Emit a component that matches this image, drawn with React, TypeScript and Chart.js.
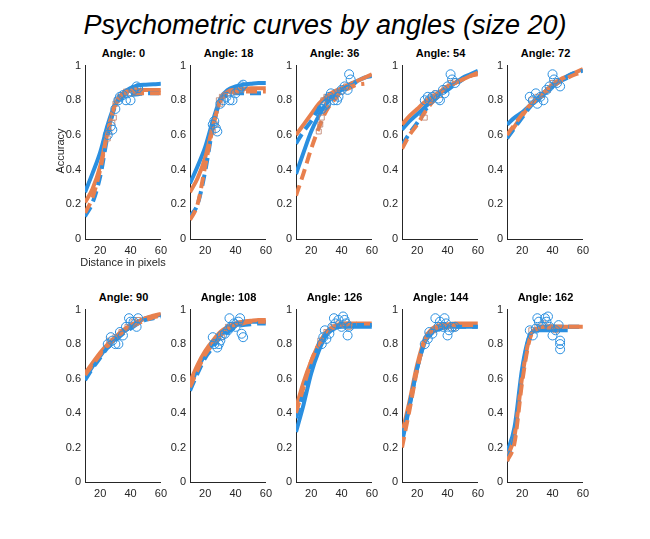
import React, { useEffect, useRef } from "react";
import { Chart, registerables } from "chart.js";

Chart.register(...registerables);

const ANGLES = [0, 18, 36, 54, 72, 90, 108, 126, 144, 162];
const DISTANCES = [10, 15, 20, 25, 30, 35, 40, 45, 50, 55, 60];
const X_TICKS = [20, 40, 60];

// fitted curves, one row per angle, values at DISTANCES (null = curve ends)
const BLUE_SOLID = [
  [0.27, 0.38, 0.5, 0.66, 0.78, 0.84, 0.87, 0.885, 0.89, 0.893, 0.895],
  [0.32, 0.42, 0.53, 0.68, 0.81, 0.86, 0.88, 0.89, 0.895, 0.9, 0.9],
  [0.375, 0.5, 0.62, 0.71, 0.78, 0.83, 0.86, 0.89, 0.91, 0.93, 0.94],
  [0.63, 0.68, 0.72, 0.76, 0.8, 0.84, 0.87, 0.9, 0.93, 0.95, 0.97],
  [0.66, 0.7, 0.73, 0.77, 0.8, 0.84, 0.88, 0.91, 0.93, null, null],
  [0.6, 0.67, 0.73, 0.79, 0.83, 0.87, 0.9, 0.93, 0.95, 0.96, 0.97],
  [0.55, 0.66, 0.74, 0.8, 0.85, 0.88, 0.91, 0.92, 0.93, 0.93, 0.93],
  [0.29, 0.45, 0.63, 0.76, 0.85, 0.89, 0.9, 0.9, 0.9, 0.9, 0.9],
  [0.23, 0.44, 0.66, 0.81, 0.87, 0.89, 0.9, 0.9, 0.9, 0.9, 0.9],
  [0.17, 0.32, 0.66, 0.85, 0.88, 0.88, 0.88, 0.88, 0.88, null, null],
];
const BLUE_DASHED = [
  [0.13, 0.21, 0.36, 0.6, 0.77, 0.82, 0.83, 0.835, 0.84, 0.84, 0.84],
  [0.13, 0.2, 0.39, 0.64, 0.8, 0.83, 0.84, 0.84, 0.84, 0.84, 0.84],
  [0.55, 0.62, 0.68, 0.75, 0.8, 0.83, 0.86, 0.88, 0.905, null, null],
  [0.54, 0.61, 0.67, 0.74, 0.79, 0.83, 0.86, 0.89, 0.92, null, null],
  [0.58, 0.64, 0.7, 0.76, 0.81, 0.85, 0.88, 0.91, 0.94, 0.96, 0.97],
  [0.59, 0.66, 0.72, 0.78, 0.82, 0.86, 0.89, 0.92, 0.94, 0.95, 0.96],
  [0.53, 0.63, 0.72, 0.78, 0.84, 0.87, 0.9, 0.91, 0.915, 0.92, 0.92],
  [0.37, 0.52, 0.67, 0.79, 0.86, 0.89, 0.905, 0.91, 0.91, 0.91, 0.91],
  [0.25, 0.45, 0.66, 0.81, 0.87, 0.89, 0.9, 0.9, 0.9, 0.9, 0.9],
  [0.12, 0.27, 0.63, 0.85, 0.89, 0.9, 0.9, 0.9, 0.9, 0.9, 0.9],
];
const ORANGE_SOLID = [
  [0.21, 0.29, 0.42, 0.62, 0.78, 0.84, 0.855, 0.86, 0.86, 0.86, 0.86],
  [0.27, 0.35, 0.47, 0.65, 0.8, 0.85, 0.86, 0.865, 0.87, 0.87, 0.87],
  [0.6, 0.66, 0.72, 0.78, 0.82, 0.85, 0.87, 0.89, 0.91, 0.93, 0.95],
  [0.66, 0.71, 0.75, 0.79, 0.82, 0.85, 0.88, 0.9, 0.92, 0.94, 0.96],
  [0.58, 0.65, 0.71, 0.77, 0.81, 0.85, 0.89, 0.92, 0.94, 0.96, 0.98],
  [0.63, 0.69, 0.75, 0.8, 0.84, 0.88, 0.91, 0.93, 0.95, 0.965, 0.975],
  [0.58, 0.68, 0.76, 0.82, 0.87, 0.9, 0.92, 0.93, 0.935, 0.94, 0.94],
  [0.43, 0.58, 0.7, 0.8, 0.87, 0.9, 0.92, 0.92, 0.92, 0.92, 0.92],
  [0.28, 0.47, 0.68, 0.83, 0.89, 0.91, 0.915, 0.92, 0.92, 0.92, 0.92],
  [0.14, 0.27, 0.61, 0.84, 0.89, 0.9, 0.9, 0.9, 0.9, 0.9, 0.9],
];
const ORANGE_DASHED = [
  [0.15, 0.24, 0.4, 0.62, 0.78, 0.83, 0.84, 0.84, 0.84, 0.84, 0.84],
  [0.11, 0.2, 0.42, 0.64, 0.8, 0.84, 0.85, 0.85, 0.85, 0.85, 0.85],
  [0.25, 0.38, 0.52, 0.64, 0.74, 0.8, 0.85, 0.87, 0.89, 0.895, null],
  [0.52, 0.6, 0.66, 0.73, 0.79, 0.84, 0.88, 0.9, 0.92, 0.94, 0.95],
  [0.6, 0.66, 0.72, 0.77, 0.81, 0.85, 0.88, 0.91, 0.93, 0.95, 0.96],
  [0.62, 0.68, 0.74, 0.79, 0.83, 0.87, 0.9, 0.92, 0.94, 0.955, 0.965],
  [0.55, 0.65, 0.74, 0.8, 0.85, 0.89, 0.91, 0.92, 0.93, 0.93, 0.93],
  [0.4, 0.55, 0.7, 0.8, 0.87, 0.9, 0.915, 0.92, 0.92, null, null],
  [0.2, 0.42, 0.65, 0.82, 0.88, 0.9, 0.905, 0.91, 0.91, 0.91, 0.91],
  [0.12, 0.23, 0.58, 0.83, 0.89, 0.9, 0.9, 0.9, 0.9, 0.9, 0.9],
];

// observed accuracies (blue circles)
const CIRCLE_X = [
  [25, 27, 28, 30, 32, 33, 35, 37, 38, 40, 42, 44, 45],
  [25, 26, 27, 28, 30, 32, 34, 36, 38, 40, 42, 44, 45],
  [27, 29, 30, 32, 33, 35, 37, 38, 40, 42, 44, 45, 46],
  [25, 27, 28, 30, 32, 34, 35, 37, 38, 40, 42, 43, 45],
  [25, 27, 29, 30, 32, 34, 36, 38, 40, 41, 43, 45],
  [25, 27, 28, 30, 32, 33, 35, 37, 39, 40, 42, 44, 45],
  [25, 26, 28, 29, 30, 31, 33, 35, 36, 37, 39, 40, 42, 43, 44, 45],
  [27, 28, 29, 30, 32, 34, 35, 36, 38, 40, 41, 42, 43, 44, 45],
  [25, 27, 28, 30, 32, 34, 35, 37, 38, 39, 40, 41, 43, 45],
  [25, 27, 29, 30, 31, 33, 35, 36, 37, 38, 40, 42, 44, 45, 45, 45],
];
const CIRCLE_Y = [
  [0.6, 0.65, 0.63, 0.75, 0.8, 0.82, 0.83, 0.8, 0.84, 0.8, 0.86, 0.88, 0.87],
  [0.66, 0.68, 0.64, 0.62, 0.78, 0.8, 0.82, 0.8, 0.8, 0.84, 0.86, 0.88, 0.89],
  [0.75, 0.77, 0.78, 0.82, 0.84, 0.8, 0.8, 0.82, 0.86, 0.88, 0.86, 0.95, 0.92],
  [0.8, 0.82, 0.8, 0.82, 0.83, 0.81, 0.8, 0.86, 0.84, 0.88, 0.95, 0.92, 0.9],
  [0.82, 0.8, 0.84, 0.78, 0.82, 0.8, 0.86, 0.88, 0.95, 0.92, 0.9, 0.88],
  [0.8, 0.84, 0.82, 0.8, 0.8, 0.87, 0.85, 0.9, 0.95, 0.93, 0.93, 0.9, 0.95],
  [0.84, 0.8, 0.78, 0.8, 0.82, 0.85, 0.86, 0.88, 0.95, 0.9, 0.92, 0.9, 0.93, 0.95, 0.86, 0.84],
  [0.8, 0.84, 0.88, 0.83, 0.86, 0.9, 0.95, 0.92, 0.94, 0.9, 0.96, 0.94, 0.92, 0.85, 0.9],
  [0.8, 0.83, 0.87, 0.86, 0.95, 0.9, 0.93, 0.9, 0.95, 0.92, 0.85, 0.88, 0.9, 0.9],
  [0.88, 0.85, 0.89, 0.95, 0.93, 0.9, 0.95, 0.93, 0.96, 0.9, 0.85, 0.88, 0.91, 0.82, 0.8, 0.77],
];
// observed accuracies (squares)
const SQUARE_X = [
  [25, 26, 28, 29, 30, 31, 33, 35, 37, 40, 43, 45],
  [25, 27, 29, 30, 31, 33, 36, 40, 44],
  [25, 26, 27, 28, 30, 31, 33, 36, 40, 43],
  [25, 27, 29, 32, 35, 38, 42, 45],
  [26, 30, 33, 37, 40, 43],
  [26, 30, 34, 38, 42, 45],
  [27, 31, 35, 39, 42],
  [26, 30, 34, 38, 42, 45],
  [27, 31, 35, 39, 44],
  [26, 30, 34, 38, 42],
];
const SQUARE_Y = [
  [0.58, 0.62, 0.67, 0.7, 0.78, 0.8, 0.82, 0.83, 0.85, 0.84, 0.86, 0.85],
  [0.62, 0.66, 0.8, 0.78, 0.82, 0.83, 0.84, 0.85, 0.86],
  [0.62, 0.66, 0.7, 0.8, 0.82, 0.78, 0.82, 0.82, 0.85, 0.88],
  [0.7, 0.8, 0.82, 0.84, 0.83, 0.87, 0.9, 0.91],
  [0.8, 0.82, 0.83, 0.86, 0.9, 0.91],
  [0.82, 0.84, 0.87, 0.9, 0.93, 0.94],
  [0.82, 0.84, 0.9, 0.91, 0.92],
  [0.82, 0.87, 0.9, 0.92, 0.91, 0.9],
  [0.85, 0.88, 0.91, 0.9, 0.89],
  [0.88, 0.9, 0.92, 0.9, 0.88],
];

const BLUE = "#2a8fe0";
const ORANGE = "#e8804e";
const SQUARE_COLOR = "rgba(190,130,110,0.85)";
const AXIS_COLOR = "#262626";
const FONT = "'Liberation Sans', Arial, Helvetica, sans-serif";

const COL_LEFT = [85, 190, 296, 402, 507];
const ROW_TOP = [63, 307];
const ROW_H = [176, 175];
const PLOT_W = 77;
const PAD_L = 30;
const PAD_T = 8;
const PAD_R = 10;
const PAD_B = 20;

function curve(values: (number | null)[]) {
  const pts: { x: number; y: number }[] = [];
  values.forEach((v, i) => {
    if (v !== null) pts.push({ x: DISTANCES[i], y: v });
  });
  return pts;
}

function pairs(xs: number[], ys: number[]) {
  return xs.map((x, i) => ({ x, y: ys[i] }));
}

function Panel({ idx }: { idx: number }) {
  const ref = useRef<HTMLCanvasElement>(null);
  const row = Math.floor(idx / 5);
  const col = idx % 5;
  const H = ROW_H[row];
  const cw = PAD_L + PLOT_W + PAD_R;
  const ch = PAD_T + H + PAD_B;

  useEffect(() => {
    const lineBase = {
      showLine: true,
      pointRadius: 0,
      borderWidth: 4,
      cubicInterpolationMode: "monotone" as const,
      borderCapStyle: "butt" as const,
      fill: false,
    };
    const chart = new Chart(ref.current!, {
      type: "scatter",
      data: {
        datasets: [
          {
            data: pairs(CIRCLE_X[idx], CIRCLE_Y[idx]),
            pointStyle: "circle",
            pointRadius: 4.5,
            borderColor: BLUE,
            backgroundColor: "rgba(0,0,0,0)",
            borderWidth: 1,
            showLine: false,
          },
          {
            data: pairs(SQUARE_X[idx], SQUARE_Y[idx]),
            pointStyle: "rect",
            pointRadius: 3.5,
            borderColor: SQUARE_COLOR,
            backgroundColor: "rgba(0,0,0,0)",
            borderWidth: 1,
            showLine: false,
          },
          { ...lineBase, data: curve(ORANGE_DASHED[idx]), borderColor: ORANGE, borderDash: [11, 6] },
          { ...lineBase, data: curve(BLUE_DASHED[idx]), borderColor: BLUE, borderDash: [11, 6] },
          { ...lineBase, data: curve(ORANGE_SOLID[idx]), borderColor: ORANGE },
          { ...lineBase, data: curve(BLUE_SOLID[idx]), borderColor: BLUE },
        ],
      },
      options: {
        animation: false,
        responsive: false,
        events: [],
        layout: { padding: { top: PAD_T, right: PAD_R, left: 0, bottom: 0 } },
        plugins: { legend: { display: false }, tooltip: { enabled: false }, title: { display: false } },
        scales: {
          x: {
            type: "linear",
            min: 10,
            max: 60,
            grid: { display: false, drawTicks: false },
            border: { display: true, color: AXIS_COLOR, width: 1 },
            afterBuildTicks: (s: any) => {
              s.ticks = X_TICKS.map((v) => ({ value: v }));
            },
            afterFit: (s: any) => {
              s.height = PAD_B;
            },
            ticks: {
              padding: 5,
              color: AXIS_COLOR,
              font: { family: FONT, size: 11 },
              maxRotation: 0,
              autoSkip: false,
            },
          },
          y: {
            type: "linear",
            min: 0,
            max: 1,
            grid: { display: false, drawTicks: false },
            border: { display: true, color: AXIS_COLOR, width: 1 },
            afterFit: (s: any) => {
              s.width = PAD_L;
            },
            ticks: {
              stepSize: 0.2,
              padding: 4,
              color: AXIS_COLOR,
              font: { family: FONT, size: 11 },
              callback: (v: any) => String(Math.round(Number(v) * 10) / 10),
            },
          },
        },
      },
    } as any);
    return () => chart.destroy();
  }, [idx]);

  const left = COL_LEFT[col] - PAD_L;
  const top = ROW_TOP[row] - PAD_T;
  return (
    <>
      <div
        style={{
          position: "absolute",
          left: COL_LEFT[col] - 10,
          width: PLOT_W + 20,
          top: ROW_TOP[row] - 17,
          lineHeight: "14px",
          textAlign: "center",
          fontFamily: FONT,
          fontWeight: "bold",
          fontSize: 11,
          color: "#000",
        }}
      >
        {"Angle: " + ANGLES[idx]}
      </div>
      <canvas
        ref={ref}
        width={cw}
        height={ch}
        style={{ position: "absolute", left, top, width: cw, height: ch }}
      />
    </>
  );
}

export default function App() {
  return (
    <div
      style={{
        position: "absolute",
        left: 0,
        top: 0,
        width: 650,
        height: 539,
        background: "#fff",
        overflow: "hidden",
      }}
    >
      <div
        style={{
          position: "absolute",
          left: 0,
          width: 650,
          top: 9,
          lineHeight: "32px",
          textAlign: "center",
          fontFamily: FONT,
          fontStyle: "italic",
          fontSize: 27,
          color: "#000",
        }}
      >
        Psychometric curves by angles (size 20)
      </div>
      {ANGLES.map((_, i) => (
        <Panel key={i} idx={i} />
      ))}
      <div
        style={{
          position: "absolute",
          left: 60 - 40,
          top: 151 - 7,
          width: 80,
          lineHeight: "14px",
          textAlign: "center",
          transform: "rotate(-90deg)",
          fontFamily: FONT,
          fontSize: 11,
          color: AXIS_COLOR,
        }}
      >
        Accuracy
      </div>
      <div
        style={{
          position: "absolute",
          left: 123 - 60,
          top: 262 - 7,
          width: 120,
          lineHeight: "14px",
          textAlign: "center",
          fontFamily: FONT,
          fontSize: 11,
          color: AXIS_COLOR,
        }}
      >
        Distance in pixels
      </div>
    </div>
  );
}
